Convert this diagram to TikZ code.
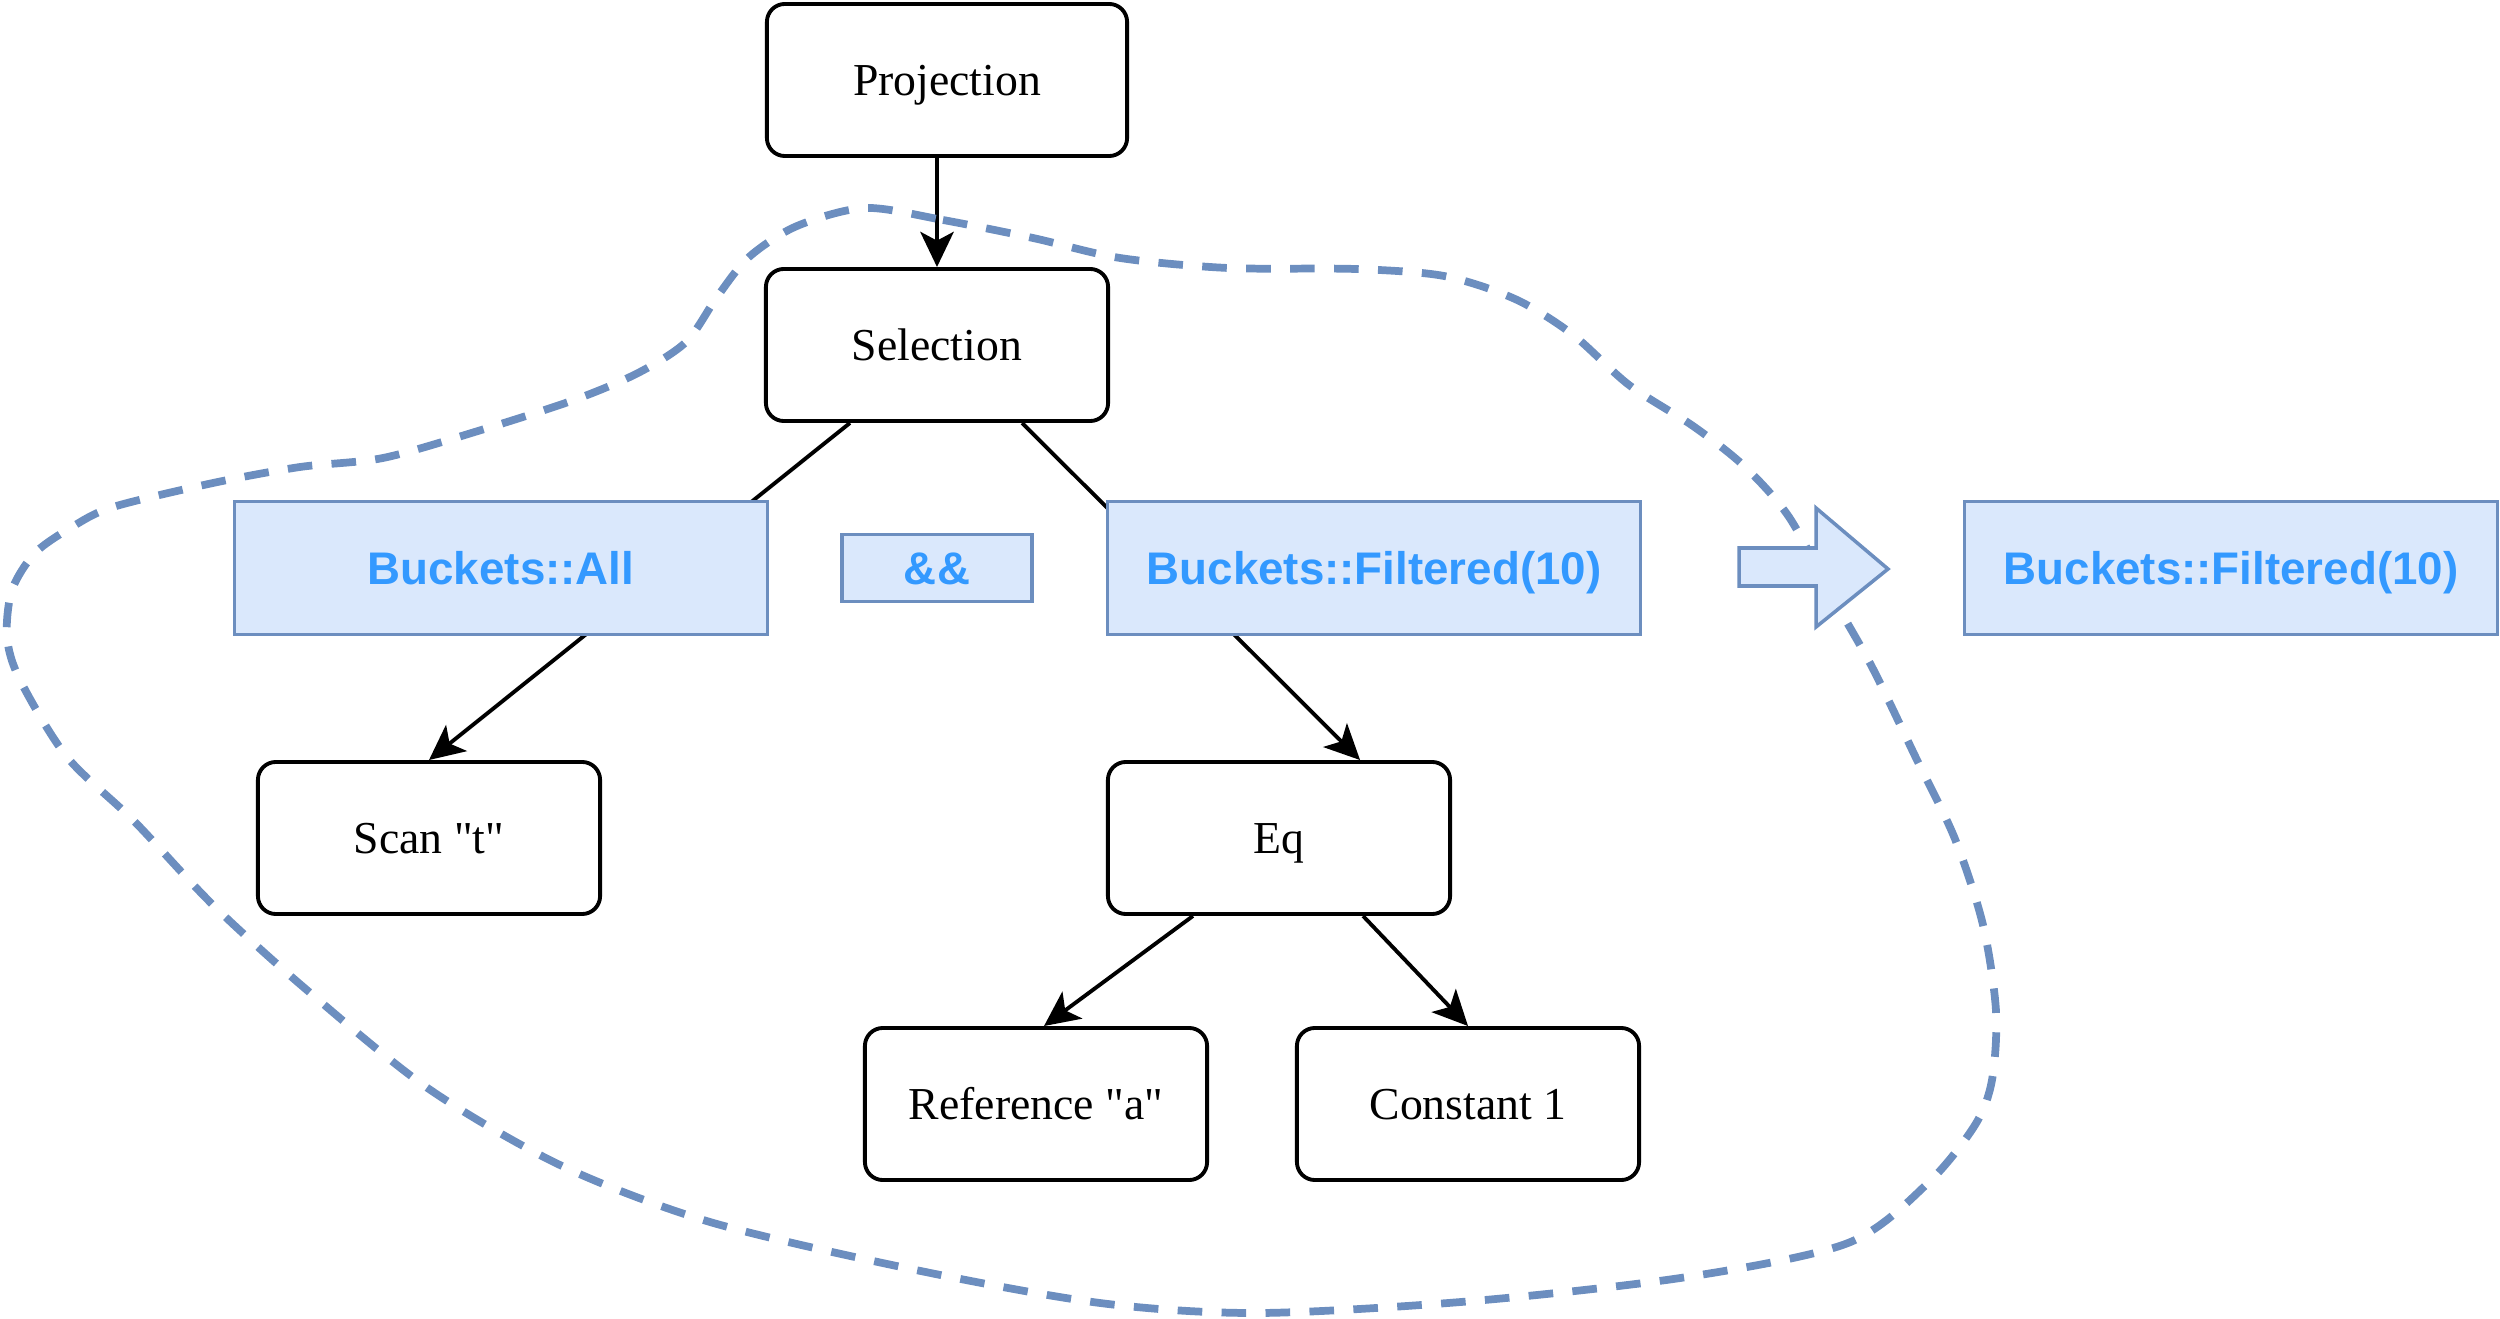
\documentclass[tikz,border=0pt]{standalone}
\usepackage{fontspec}
\setmainfont{Liberation Serif}
\setsansfont{Liberation Sans}
\usepackage{tikz}
\usetikzlibrary{arrows.meta}
\usepackage{xcolor}
\definecolor{bucketfill}{HTML}{DAE8FC}
\definecolor{bucketline}{HTML}{6C8EBF}
\definecolor{buckettext}{HTML}{3399FF}
\tikzset{%
	op node/.style={
		rectangle,
		rounded corners=0.18cm,
		draw,
		line width=1.1pt,
		minimum width=3.42cm,
		minimum height=1.52cm,
		text height=8.6pt,
		text depth=0pt,
		font=\fontsize{13}{15}\selectfont
	},
	bucket/.style={
		rectangle,
		draw=bucketline,
		fill=bucketfill,
		line width=0.9pt,
		text=buckettext,
		minimum width=5.32cm,
		minimum height=1.33cm,
		text height=9.3pt,
		text depth=0pt,
		font=\fontsize{13}{15}\selectfont\sffamily\bfseries
	},
}

\begin{document}
\begin{tikzpicture}[
				x=0.01cm, y=-0.01cm,
				link/.style={-{Stealth[length=10pt, width=9.5pt, inset=2.5pt]}, line width=1.1pt},
				region/.style={draw=bucketline, line width=2.2pt, dash pattern=on 7pt off 5.5pt}
				]
				\useasboundingbox (0,0) rectangle (2500,1319);
				% plan tree
				\node[op node, minimum width=3.6cm] (proj) at (947,80) {Projection};
				\node[op node] (sel) at (937,345) {Selection};
				\node[op node] (scan) at (429,838) {Scan \textquotedbl t\textquotedbl};
				\node[op node] (eq) at (1279,838) {Eq};
				\node[op node] (ref) at (1036,1104) {Reference \textquotedbl a\textquotedbl};
				\node[op node] (const) at (1468,1104) {Constant 1};
				\draw[link] (sel.north |- proj.south) -- (sel.north);
				\draw[link] ([xshift=-0.87cm]sel.south) -- (scan.north);
				\draw[link] ([xshift=0.85cm]sel.south) -- ([xshift=0.81cm]eq.north);
				\draw[link] ([xshift=-0.86cm]eq.south) -- ([xshift=0.08cm]ref.north);
				\draw[link] ([xshift=0.84cm]eq.south) -- (const.north);
				% buckets
				\node[bucket] (all) at (501,568) {Buckets::All};
				\node[bucket, minimum width=1.9cm, minimum height=0.67cm] (and) at (937,568) {\&\&};
				\node[bucket] (filt) at (1374,568) {Buckets::Filtered(10)};
				\node[bucket] (result) at (2231,568) {Buckets::Filtered(10)};
				% rewritten part
				\draw[region] plot[smooth cycle, tension=0.5] coordinates {
					(865,208) (943,220) (1033,238) (1120,258) (1228,268) (1355,269)
					(1444,276) (1515,299) (1572,334) (1629,385) (1693,426) (1744,466)
					(1789,517) (1833,598) (1872,667) (1916,758) (1955,839) (1983,925)
					(1996,1011) (1992,1080) (1975,1125) (1928,1183) (1848,1243) (1687,1277)
					(1473,1301) (1259,1313) (1100,1303) (911,1269) (710,1222) (562,1166)
					(429,1089) (308,991) (214,906) (134,821) (67,757) (20,680)
					(7,637) (12,590) (35,553) (72,527) (113,507) (213,483)
					(300,467) (383,458) (478,431) (574,400) (638,373) (686,342)
					(717,297) (749,257) (797,226)
				};
				\draw[draw=bucketline, fill=bucketfill, line width=1pt]
					(1739,548) -- (1816,548) -- (1816,508) -- (1888,569)
					-- (1816,627) -- (1816,586) -- (1739,586) -- cycle;
			\end{tikzpicture}
\end{document}
